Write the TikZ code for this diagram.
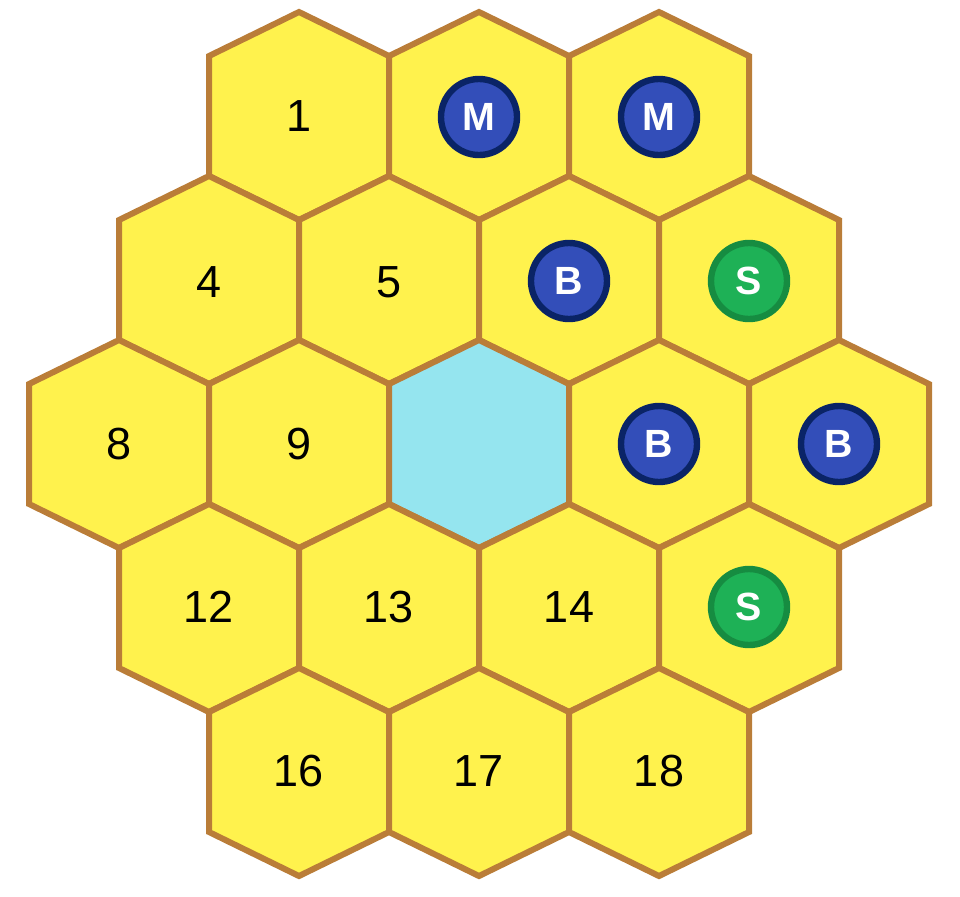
\documentclass[tikz,border=0pt]{standalone}
\usepackage{fontspec}
\setmainfont{Liberation Sans}
\definecolor{hexCol}{RGB}{255,242,77}
\definecolor{rimCol}{RGB}{186,125,56}
\definecolor{lakeCol}{RGB}{149,229,239}
\definecolor{blueCol}{RGB}{51,78,185}
\definecolor{navyCol}{RGB}{10,36,102}
\definecolor{greenCol}{RGB}{30,177,86}
\definecolor{dgreenCol}{RGB}{22,140,65}
\tikzset{
  tile/.style={draw=rimCol, line width=1.5mm, line join=miter, fill=hexCol},
  lake/.style={tile, fill=lakeCol},
  num/.style={inner sep=0pt, font=\fontsize{32}{36}\selectfont},
  token/.style={circle, inner sep=0pt, minimum size=19mm, line width=1.6mm,
                text=white, font=\fontsize{28}{30}\selectfont\bfseries},
  btok/.style={token, fill=blueCol, draw=navyCol},
  stok/.style={token, fill=greenCol, draw=dgreenCol},
}
% pointy-top hexagon around (#1,#2), pixel units
\newcommand{\hexat}[2]{(#1,#2-104) -- (#1+90,#2-60) -- (#1+90,#2+60) -- (#1,#2+104)
  -- (#1-90,#2+60) -- (#1-90,#2-60) -- cycle}

\begin{document}
\begin{tikzpicture}[x=0.25mm, y=-0.25mm]
  \useasboundingbox (0,0) rectangle (960,896);
  % tiles
  \foreach \cx/\cy/\kind in {299/116/tile, 479/116/tile, 659/116/tile,
      209/280/tile, 389/280/tile, 569/280/tile, 749/280/tile,
      119/444/tile, 299/444/tile, 479/444/lake, 659/444/tile, 839/444/tile,
      209/608/tile, 389/608/tile, 569/608/tile, 749/608/tile,
      299/772/tile, 479/772/tile, 659/772/tile}
    \draw[\kind] \hexat{\cx}{\cy};
  % labels
  \node[num]  (t1)  at (299,116) {1};
  \node[btok] (t2)  at (479,117) {M};
  \node[btok] (t3)  at (659,117) {M};
  \node[num]  (t4)  at (209,282) {4};
  \node[num]  (t5)  at (389,282) {5};
  \node[btok] (t6)  at (569,281) {B};
  \node[stok] (t7)  at (749,281) {S};
  \node[num]  (t8)  at (119,444) {8};
  \node[num]  (t9)  at (299,444) {9};
  \node[btok] (t11) at (659,444) {B};
  \node[btok] (t12) at (839,444) {B};
  \node[num]  (t13) at (209,607) {12};
  \node[num]  (t14) at (389,607) {13};
  \node[num]  (t15) at (569,607) {14};
  \node[stok] (t16) at (749,607) {S};
  \node[num]  (t17) at (299,771) {16};
  \node[num]  (t18) at (479,771) {17};
  \node[num]  (t19) at (659,771) {18};
\end{tikzpicture}
\end{document}
